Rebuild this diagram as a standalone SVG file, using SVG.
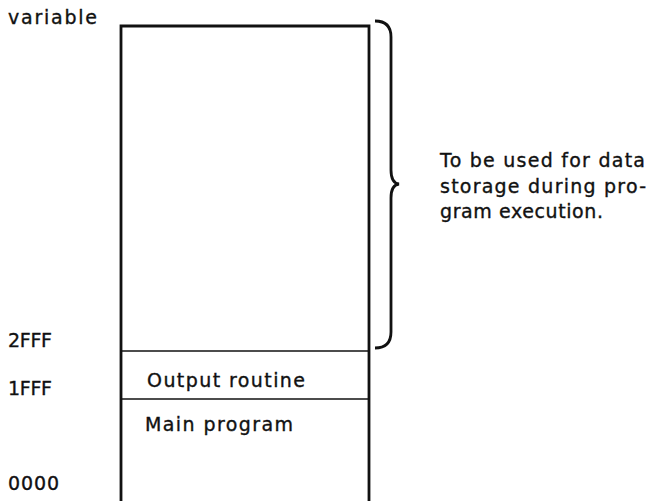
<svg xmlns="http://www.w3.org/2000/svg" width="647" height="501" viewBox="0 0 647 501">
<style>
text{font-family:"DejaVu Sans","Liberation Sans",Arial,sans-serif;font-size:19px;fill:#111;stroke:#111;stroke-width:0.35}
.ln{stroke:#111;fill:none}
</style>
<rect width="647" height="501" fill="#fff"/>
<g id="memory">
<path class="ln" stroke-width="2.8" d="M121,501 V26 H369 V501"/>
<line class="ln" stroke-width="1.5" x1="121" y1="351" x2="369" y2="351"/>
<line class="ln" stroke-width="1.5" x1="121" y1="399" x2="369" y2="399"/>
</g>
<g id="labels">
<text x="8" y="24" textLength="89" lengthAdjust="spacing">variable</text>
<text x="8" y="347" textLength="44" lengthAdjust="spacing">2FFF</text>
<text x="8" y="395" textLength="44" lengthAdjust="spacing">1FFF</text>
<text x="8" y="490" textLength="51" lengthAdjust="spacing">0000</text>
<text x="147" y="387" textLength="158" lengthAdjust="spacing">Output routine</text>
<text x="145" y="431" textLength="148" lengthAdjust="spacing">Main program</text>
</g>
<g id="brace">
<path class="ln" stroke-width="2.8" d="M375,21 Q391,21 391,37 V170 Q391,183 399,184 Q391,185 391,198 V332 Q391,348 375,348"/>
</g>
<g id="note">
<text x="440" y="167" textLength="205" lengthAdjust="spacing">To be used for data</text>
<text x="440" y="193" textLength="206" lengthAdjust="spacing">storage during pro-</text>
<text x="440" y="218" textLength="163" lengthAdjust="spacing">gram execution.</text>
</g>
</svg>
